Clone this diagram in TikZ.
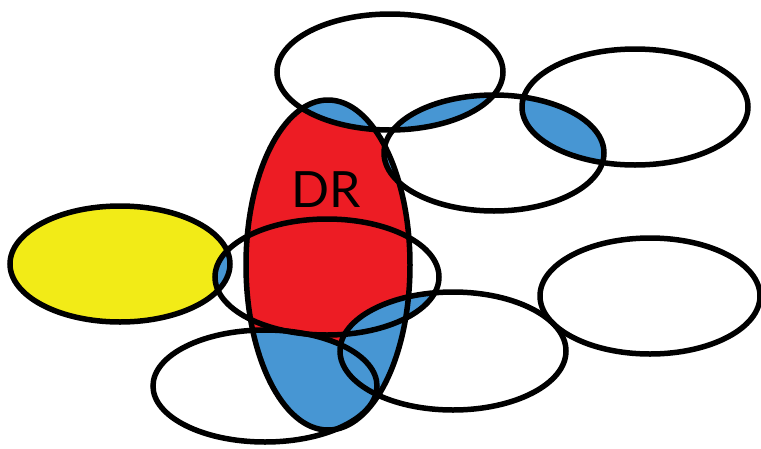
\documentclass[tikz,border=0pt]{standalone}
\usepackage{fontspec}
\newfontfamily\labelfont{Lato}
\definecolor{drred}{HTML}{ED1C24}
\definecolor{drblue}{HTML}{4796D3}
\definecolor{dryellow}{HTML}{F2EB17}
% the ellipses, in pixel coordinates
\def\ellDR{(328,265) ellipse (82 and 165)}
\def\ellTop{(390,72) ellipse (113 and 58)}
\def\ellTopRight{(635,107) ellipse (113 and 58)}
\def\ellMidRight{(494,153) ellipse (110 and 58)}
\def\ellYellow{(120,264) ellipse (110 and 58)}
\def\ellMid{(327,277) ellipse (112 and 58)}
\def\ellRight{(650,296) ellipse (110 and 58)}
\def\ellLow{(453,351) ellipse (113 and 59)}
\def\ellBottom{(265,386) ellipse (112 and 56)}
\begin{document}
\begin{tikzpicture}[x=1pt, y=-1pt, line width=5.5pt, lens/.style={fill=drblue}]
	\useasboundingbox (0,0) rectangle (761,448);
	\fill[dryellow] \ellYellow;
	\fill[drred] \ellDR;
	% blue overlaps
	\begin{scope} \clip \ellDR; \fill[lens] \ellTop; \end{scope}
	\begin{scope} \clip \ellDR; \fill[lens] \ellMidRight; \end{scope}
	\begin{scope} \clip \ellDR; \fill[lens] \ellBottom; \end{scope}
	\begin{scope} \clip \ellDR; \fill[lens] \ellLow; \end{scope}
	\begin{scope} \clip \ellMidRight; \fill[lens] \ellTop; \end{scope}
	\begin{scope} \clip \ellMidRight; \fill[lens] \ellTopRight; \end{scope}
	\begin{scope} \clip \ellYellow; \fill[lens] \ellMid; \end{scope}
	\begin{scope} \clip \ellMid; \fill[lens] \ellLow; \end{scope}
	% outlines
	\draw \ellDR;
	\draw \ellTop;
	\draw \ellTopRight;
	\draw \ellMidRight;
	\draw \ellYellow;
	\draw \ellMid;
	\draw \ellRight;
	\draw \ellLow;
	\draw \ellBottom;
	\node[font=\labelfont\fontsize{50}{50}\selectfont] (dr) at (326,190) {DR};
\end{tikzpicture}
\end{document}
